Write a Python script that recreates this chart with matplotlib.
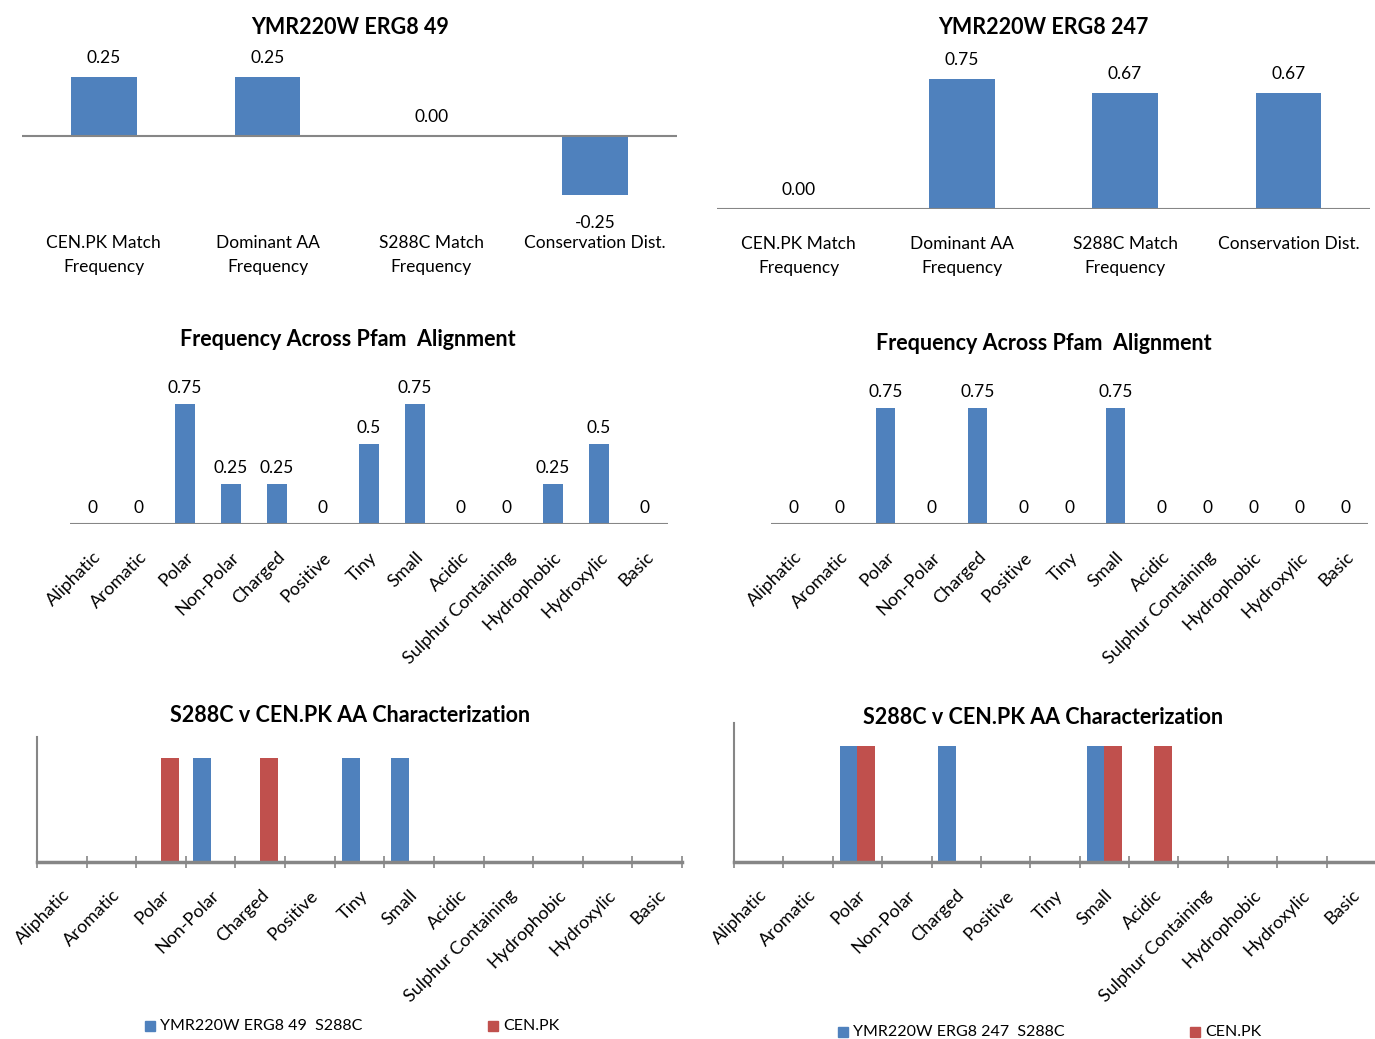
import matplotlib
matplotlib.use("Agg")
from matplotlib import pyplot as plt
from matplotlib.patches import Rectangle
import numpy as np

plt.rcParams["font.family"] = ["Lato", "DejaVu Sans"]

BLUE = "#4F81BD"
RED = "#C0504D"
GREY = "#868686"

W, H = 1375, 1039

summary_cats = ["CEN.PK Match\nFrequency", "Dominant AA\nFrequency",
                "S288C Match\nFrequency", "Conservation Dist."]
summary_49 = [0.25, 0.25, 0.00, -0.25]
summary_247 = [0.00, 0.75, 0.67, 0.67]

aa_cats = ["Aliphatic", "Aromatic", "Polar", "Non-Polar", "Charged", "Positive",
           "Tiny", "Small", "Acidic", "Sulphur Containing", "Hydrophobic",
           "Hydroxylic", "Basic"]
pfam_49 = [0, 0, 0.75, 0.25, 0.25, 0, 0.5, 0.75, 0, 0, 0.25, 0.5, 0]
pfam_247 = [0, 0, 0.75, 0, 0.75, 0, 0, 0.75, 0, 0, 0, 0, 0]

s288c_49 = [0, 0, 0, 1, 0, 0, 1, 1, 0, 0, 0, 0, 0]
cenpk_49 = [0, 0, 1, 0, 1, 0, 0, 0, 0, 0, 0, 0, 0]
s288c_247 = [0, 0, 1, 0, 1, 0, 0, 1, 0, 0, 0, 0, 0]
cenpk_247 = [0, 0, 1, 0, 0, 0, 0, 1, 1, 0, 0, 0, 0]


def px_axes(fig, x0, y0, x1, y1):
    # pixel box (top-left origin) -> figure axes
    return fig.add_axes([x0 / W, 1 - y1 / H, (x1 - x0) / W, (y1 - y0) / H])


def title(fig, x, y, text):
    fig.text(x / W, 1 - y / H, text, fontsize=15.5, fontweight="bold",
             ha="center", va="center")


def clean(ax):
    for s in ["top", "right", "left", "bottom"]:
        ax.spines[s].set_visible(False)
    ax.set_yticks([])
    ax.tick_params(axis="x", length=0)


def summary_chart(ax, values, ylim, pad):
    clean(ax)
    x = np.arange(len(values))
    bars = ax.bar(x, values, width=0.4, color=BLUE)
    ax.axhline(0, color=GREY, lw=1.5, zorder=3)
    pos = ["%.2f" % v if v >= 0 else "" for v in values]
    neg = ["%.2f" % v if v < 0 else "" for v in values]
    ax.bar_label(bars, labels=pos, padding=8, fontsize=12.5)
    ax.bar_label(bars, labels=neg, padding=14, fontsize=12.5)
    ax.set_xlim(-0.5, len(values) - 0.5)
    ax.set_ylim(*ylim)
    ax.set_xticks(x)
    ax.set_xticklabels(summary_cats, fontsize=12.5, linespacing=1.6, va="top")
    ax.tick_params(axis="x", pad=pad)


def pfam_chart(ax, values):
    clean(ax)
    x = np.arange(len(values))
    bars = ax.bar(x, values, width=0.42, color=BLUE)
    ax.axhline(0, color=GREY, lw=1.5, zorder=3)
    ax.bar_label(bars, fmt="%g", padding=6, fontsize=12.5)
    ax.set_xlim(-0.5, len(values) - 0.5)
    ax.set_ylim(0, 0.9)
    ax.set_xticks(x)
    ax.set_xticklabels(aa_cats, rotation=45, ha="right", va="top",
                       rotation_mode="anchor", fontsize=13)
    ax.tick_params(axis="x", pad=18)


def compare_chart(ax, s288c, cenpk):
    for s in ["top", "right"]:
        ax.spines[s].set_visible(False)
    ax.spines["left"].set_color(GREY)
    ax.spines["bottom"].set_color(GREY)
    ax.spines["left"].set_linewidth(1.5)
    ax.spines["bottom"].set_linewidth(2.5)
    x = np.arange(len(s288c))
    ax.bar(x - 0.18, s288c, width=0.36, color=BLUE)
    ax.bar(x + 0.18, cenpk, width=0.36, color=RED)
    ax.set_xlim(-0.5, len(s288c) - 0.5)
    ax.set_ylim(0, 1.2)
    ax.set_yticks([])
    ax.set_xticks(np.arange(len(s288c) + 1) - 0.5, minor=True)
    ax.tick_params(axis="x", which="minor", direction="inout", length=9,
                   width=1.2, color=GREY)
    ax.set_xticks(x)
    ax.tick_params(axis="x", which="major", length=0, pad=18)
    ax.set_xticklabels(aa_cats, rotation=45, ha="right", va="top",
                       rotation_mode="anchor", fontsize=13)


def legend(fig, x_blue, x_red, y, label_blue):
    for xx, col, lab in [(x_blue, BLUE, label_blue), (x_red, RED, "CEN.PK")]:
        fig.patches.append(Rectangle((xx / W, 1 - (y + 5) / H), 10 / W, 10 / H,
                                     transform=fig.transFigure, color=col))
        fig.text((xx + 15) / W, 1 - y / H, lab, fontsize=11.5, va="center")


fig = plt.figure(figsize=(W / 100, H / 100), dpi=100)

ax1 = px_axes(fig, 22, 65, 677, 207)
summary_chart(ax1, summary_49, (-0.3, 0.3), 20)
title(fig, 350, 28, "YMR220W ERG8 49")
ax2 = px_axes(fig, 717, 53, 1370, 209)
summary_chart(ax2, summary_247, (0, 0.9), 19.5)
title(fig, 1043, 27, "YMR220W ERG8 247")

ax3 = px_axes(fig, 70, 380, 668, 524)
pfam_chart(ax3, pfam_49)
title(fig, 348, 340, "Frequency Across Pfam  Alignment")
ax4 = px_axes(fig, 771, 385, 1368, 524)
pfam_chart(ax4, pfam_247)
title(fig, 1044, 344, "Frequency Across Pfam  Alignment")

ax5 = px_axes(fig, 37, 737, 682, 862)
compare_chart(ax5, s288c_49, cenpk_49)
title(fig, 350, 715, "S288C v CEN.PK AA Characterization")
ax6 = px_axes(fig, 734, 723, 1376, 862)
compare_chart(ax6, s288c_247, cenpk_247)
title(fig, 1043, 718, "S288C v CEN.PK AA Characterization")

legend(fig, 145, 488, 1026, "YMR220W ERG8 49  S288C")
legend(fig, 838, 1190, 1032, "YMR220W ERG8 247  S288C")

fig.savefig("out.png", dpi=100)
